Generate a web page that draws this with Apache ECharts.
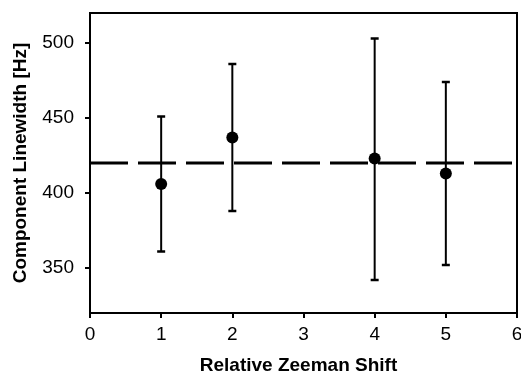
<!DOCTYPE html>
<html>
<head>
<meta charset="utf-8">
<script src="https://cdn.jsdelivr.net/npm/echarts@6/dist/echarts.min.js"></script>
<style>html,body{margin:0;padding:0;background:#fff}#c{width:521px;height:377px}</style>
</head>
<body>
<div id="c"></div>
<script>
var xValues = [1, 2, 4, 5];
var yValues = [406, 437, 423, 413];
var yUpper = [451, 486, 503, 474];
var yLower = [361, 388, 342, 352];
var meanLine = 420;
var xTicks = [0, 1, 2, 3, 4, 5, 6];
var yTicks = [350, 400, 450, 500];

var points = xValues.map(function (x, i) { return [x, yValues[i]]; });
var bars = xValues.map(function (x, i) { return [x, yLower[i], yUpper[i]]; });

var chart = echarts.init(document.getElementById('c'), null, {renderer: 'canvas'});
var font = 'Liberation Sans, Arial, sans-serif';
chart.setOption({
  animation: false,
  backgroundColor: '#fff',
  grid: {left: 90, right: 4, top: 13, bottom: 64, outerBoundsMode: 'none', containLabel: false,
         show: true, borderColor: '#000', borderWidth: 2, backgroundColor: 'transparent'},
  xAxis: {
    type: 'value', min: 0, max: 6, interval: 1,
    name: 'Relative Zeeman Shift', nameLocation: 'middle', nameGap: 43,
    nameTextStyle: {fontFamily: font, fontSize: 19, fontWeight: 'bold', color: '#000', padding: [0, 10, 0, 0]},
    axisLine: {show: true, lineStyle: {color: '#000', width: 2}},
    axisTick: {show: true, inside: false, length: 5, lineStyle: {color: '#000', width: 2}, customValues: xTicks},
    axisLabel: {fontFamily: font, fontSize: 19, color: '#000', margin: 12, customValues: xTicks},
    splitLine: {show: false}
  },
  yAxis: {
    type: 'value', min: 320, max: 520,
    name: 'Component Linewidth [Hz]', nameLocation: 'middle', nameGap: 60,
    nameTextStyle: {fontFamily: font, fontSize: 19, fontWeight: 'bold', color: '#000'},
    axisLine: {show: true, lineStyle: {color: '#000', width: 2}},
    axisTick: {show: true, inside: false, length: 5, lineStyle: {color: '#000', width: 2}, customValues: yTicks},
    axisLabel: {fontFamily: font, fontSize: 19, color: '#000', margin: 16, customValues: yTicks},
    splitLine: {show: false}
  },
  series: [
    {
      type: 'line', data: [[0, meanLine], [6, meanLine]], symbol: 'none', silent: true,
      lineStyle: {color: '#000', width: 3, type: [38, 10]}, z: 1
    },
    {
      type: 'custom', data: bars, z: 2,
      renderItem: function (params, api) {
        var x = api.value(0);
        var lo = api.coord([x, api.value(1)]);
        var hi = api.coord([x, api.value(2)]);
        var w = 4;
        var style = {stroke: '#000', lineWidth: 2};
        return {type: 'group', children: [
          {type: 'line', shape: {x1: lo[0], y1: lo[1], x2: hi[0], y2: hi[1]}, style: style},
          {type: 'line', shape: {x1: lo[0] - w, y1: lo[1], x2: lo[0] + w, y2: lo[1]}, style: {stroke: '#000', lineWidth: 2.5}},
          {type: 'line', shape: {x1: hi[0] - w, y1: hi[1], x2: hi[0] + w, y2: hi[1]}, style: {stroke: '#000', lineWidth: 2.5}}
        ]};
      }
    },
    {
      type: 'scatter', data: points, symbol: 'circle', symbolSize: 12, z: 3,
      itemStyle: {color: '#000', opacity: 1}
    }
  ]
});
</script>
</body>
</html>
